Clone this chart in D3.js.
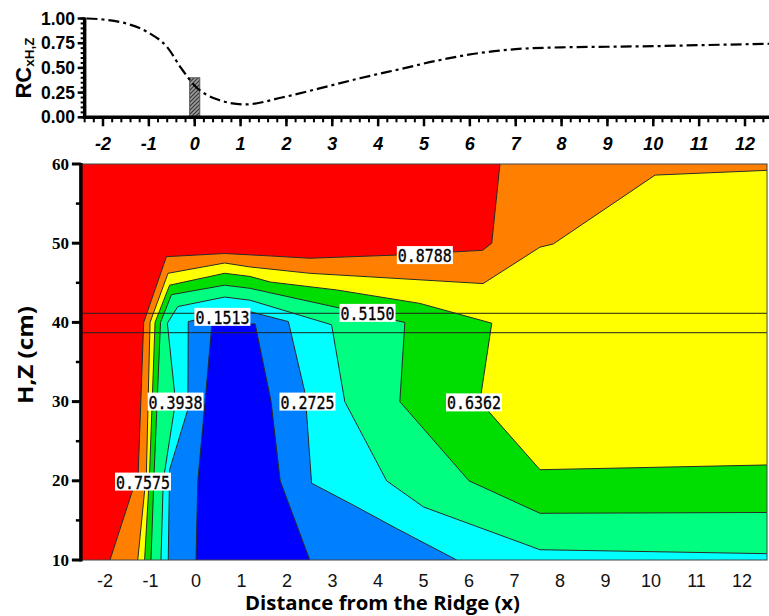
<!DOCTYPE html>
<html><head><meta charset="utf-8">
<script src="https://cdn.jsdelivr.net/npm/d3@7"></script>
<style>body{margin:0;background:#fff}svg{display:block}</style>
</head><body>
<svg id="c" width="769" height="616"></svg>
<script>
// ---------------- DATA ----------------
// top panel: RC(x,H,Z) profile
const rcX     = [-2.36,-2.0,-1.5,-1.0,-0.6,-0.3,0.0,0.5,1.1,1.9,2.7,3.6,4.5,5.3,6.2,7.0,8.0,9.0,10.0,11.0,12.6];
const rcValue = [1.0,0.99,0.95,0.855,0.71,0.50,0.32,0.18,0.13,0.20,0.29,0.395,0.49,0.575,0.65,0.69,0.708,0.714,0.72,0.73,0.745];
const barX = [0];
const barValue = [0.40];
const rcTicks = [0, 0.25, 0.5, 0.75, 1.0];
const distTicks = [-2,-1,0,1,2,3,4,5,6,7,8,9,10,11,12];
const hTicks = [10,20,30,40,50,60];
const distExtent = [-2.53, 12.55];
const hExtent = [10, 60];

// bottom panel: contour levels and their iso-lines (x, H)
const levels = [0.1513, 0.2725, 0.3938, 0.5150, 0.6362, 0.7575, 0.8788];
const bandColors = ["#0000ff","#0080ff","#00ffff","#00ff80","#00dd00","#ffff00","#ff8000","#ff0000"];
const iso1513 = [[0.0,10],[0.04,20],[0.2,30],[0.35,39.8],[1.3,39.8],[1.65,30],[1.85,20],[2.5,10]];
const iso2725 = [[-0.61,10],[-0.58,21.4],[-0.18,29],[-0.17,40.1],[0.5,41.0],[1.19,41.35],[2.03,40.1],[2.4,31],[2.54,19.7],[3.5,16.8],[4.4,14],[5.73,10]];
const iso3938 = [[-0.77,10],[-0.72,20],[-0.45,30],[-0.63,39.9],[-0.4,42],[0.63,43.2],[1.19,42.8],[2.98,39.7],[3.27,30],[4.19,20],[5.0,16.7],[7.56,11.3],[12.55,10.8]];
const iso5150 = [[-0.99,10],[-0.92,21],[-0.78,40],[-0.54,43.5],[0.63,44.7],[1.19,44.3],[4.59,40],[4.48,30],[6.0,20],[7.56,15.9],[12.55,16]];
const iso6362 = [[-1.13,10],[-1.02,21],[-0.9,40],[-0.58,44.7],[0.63,46.2],[1.19,45.8],[1.63,45.1],[3.09,44.1],[4.92,42.4],[6.5,39.9],[6.24,30],[7.56,21.4],[12.55,22]];
const iso7575 = [[-1.28,10],[-1.09,21],[-1.01,40],[-0.615,46.2],[0.63,47.5],[1.19,47.0],[2.5,46.2],[6.31,44.9],[7.56,49.5],[7.85,49.9],[10.09,58.6],[12.55,59.2]];
const iso8788 = [[-1.89,10],[-1.27,21],[-1.15,40],[-0.65,48.3],[0.63,48.7],[1.6,48.4],[2.5,48.1],[4.4,48.5],[6.3,49.1],[6.5,50],[6.68,60]];
const isoLines = [iso1513, iso2725, iso3938, iso5150, iso6362, iso7575, iso8788];

const labelText = ["0.8788","0.5150","0.1513","0.3938","0.2725","0.6362","0.7575"];
const labelX    = [5.03, 3.77, 0.58, -0.45, 2.45, 6.11, -1.165];
const labelH    = [48.5, 41.2, 40.7, 30.0, 30.0, 29.9, 19.9];
const refLinesH = [41.15, 38.7];

// ---------------- DRAW ----------------
const svg = d3.select("#c");
const sans = "'Liberation Sans', Arial, sans-serif";

// ===== top panel =====
const topX = d3.scaleLinear().domain([-2, 12]).range([103, 745]);
const topY = d3.scaleLinear().domain([0, 1]).range([117.3, 18.5]);
const topLeft = topX(-2.4);

const defs = svg.append("defs");
const pat = defs.append("pattern").attr("id","hatch").attr("patternUnits","userSpaceOnUse")
  .attr("width",4).attr("height",4);
pat.append("rect").attr("width",4).attr("height",4).attr("fill","#9a9a9a");
pat.append("path").attr("d","M-1,5 L5,-1 M-1,1 L1,-1 M3,5 L5,3").attr("stroke","#333").attr("stroke-width",1.1);

const barW = 0.22;
svg.selectAll("rect.bar").data(barX).enter().append("rect").attr("class","bar")
  .attr("x", d => topX(d - barW/2)).attr("width", d => topX(d + barW/2) - topX(d - barW/2))
  .attr("y", (d,i) => topY(barValue[i])).attr("height", (d,i) => topY(0) - topY(barValue[i]))
  .attr("fill","url(#hatch)").attr("stroke","#555").attr("stroke-width",1);

const rcPts = rcX.map((x,i) => [x, rcValue[i]]);
svg.append("path").attr("d", d3.line().x(d => topX(d[0])).y(d => topY(d[1])).curve(d3.curveMonotoneX)(rcPts))
  .attr("fill","none").attr("stroke","#000").attr("stroke-width",2.2)
  .attr("stroke-dasharray","11,4,3,4");

// top y axis ticks
const tMinorY = d3.range(0, 1.0001, 0.05);
svg.selectAll("line.tyMin").data(tMinorY).enter().append("line")
  .attr("x1", topLeft - 4).attr("x2", topLeft).attr("y1", d => topY(d)).attr("y2", d => topY(d))
  .attr("stroke","#000").attr("stroke-width",2);
svg.selectAll("line.tyMaj").data(rcTicks).enter().append("line")
  .attr("x1", topLeft - 7).attr("x2", topLeft).attr("y1", d => topY(d)).attr("y2", d => topY(d))
  .attr("stroke","#000").attr("stroke-width",2.5);
svg.selectAll("text.tyl").data(rcTicks).enter().append("text")
  .attr("x", 75).attr("y", d => topY(d) + 6).attr("text-anchor","end")
  .attr("font-family", sans).attr("font-weight","bold").attr("font-size",17.5)
  .text(d => d.toFixed(2));
// top x axis ticks
const tMinorX = d3.range(-2.4, 12.61, 0.2);
svg.selectAll("line.txMin").data(tMinorX).enter().append("line")
  .attr("x1", d => topX(d)).attr("x2", d => topX(d)).attr("y1", topY(0)).attr("y2", topY(0) + 5)
  .attr("stroke","#000").attr("stroke-width",2);
svg.selectAll("line.txMaj").data(distTicks).enter().append("line")
  .attr("x1", d => topX(d)).attr("x2", d => topX(d)).attr("y1", topY(0)).attr("y2", topY(0) + 9)
  .attr("stroke","#000").attr("stroke-width",2.5);
svg.selectAll("text.txl").data(distTicks).enter().append("text")
  .attr("x", d => topX(d)).attr("y", 150).attr("text-anchor","middle")
  .attr("font-family", sans).attr("font-weight","bold").attr("font-style","italic").attr("font-size",18)
  .text(d => d);
// top axis lines
svg.append("line").attr("x1", topLeft).attr("x2", topLeft).attr("y1", topY(1) - 1).attr("y2", topY(0) + 1.5)
  .attr("stroke","#000").attr("stroke-width",3.5);
svg.append("line").attr("x1", topLeft - 1.5).attr("x2", 769).attr("y1", topY(0)).attr("y2", topY(0))
  .attr("stroke","#000").attr("stroke-width",3.5);
// top y title
const rcT = svg.append("text").attr("transform","translate(31,68) rotate(-90)").attr("text-anchor","middle")
  .attr("font-family", sans).attr("font-weight","bold").attr("font-size",22);
rcT.append("tspan").text("RC");
rcT.append("tspan").attr("font-size",13.5).attr("dy",3).text("xH,Z");

// ===== bottom panel =====
const botX = d3.scaleLinear().domain([-2, 12]).range([105, 742]);
const botY = d3.scaleLinear().domain([10, 60]).range([560, 164]);
const pL = botX(distExtent[0]), pR = botX(distExtent[1]);
const pT = botY(hExtent[1]), pB = botY(hExtent[0]);

defs.append("clipPath").attr("id","plotClip").append("rect")
  .attr("x", pL).attr("y", pT).attr("width", pR - pL).attr("height", pB - pT);
const plot = svg.append("g").attr("clip-path","url(#plotClip)");

// base band (above the highest level)
plot.append("rect").attr("x", pL).attr("y", pT).attr("width", pR - pL).attr("height", pB - pT)
  .attr("fill", bandColors[bandColors.length - 1]);

// close an iso-line into the region with values below its level (bottom/right side of the plot)
function regionPoints(line) {
  const pts = line.slice();
  const last = pts[pts.length - 1];
  if (last[1] >= hExtent[1] - 1e-9) { pts.push([distExtent[1], hExtent[1]]); pts.push([distExtent[1], hExtent[0]]); }
  else if (last[0] >= distExtent[1] - 1e-9) { pts.push([distExtent[1], hExtent[0]]); }
  return pts;
}
const lineGen = d3.line().x(d => botX(d[0])).y(d => botY(d[1]));
for (let k = levels.length - 1; k >= 0; k--) {
  plot.append("path").attr("d", lineGen(regionPoints(isoLines[k])) + "Z")
    .attr("fill", bandColors[k]).attr("stroke","none");
}
plot.selectAll("path.iso").data(isoLines).enter().append("path").attr("class","iso")
  .attr("d", d => lineGen(d)).attr("fill","none").attr("stroke","#2a2a2a").attr("stroke-width",1);
plot.selectAll("line.ref").data(refLinesH).enter().append("line")
  .attr("x1", pL).attr("x2", pR).attr("y1", d => botY(d)).attr("y2", d => botY(d))
  .attr("stroke","#222").attr("stroke-width",1);

// contour labels
const lab = plot.selectAll("g.lab").data(labelText).enter().append("g")
  .attr("transform", (d,i) => `translate(${botX(labelX[i])},${botY(labelH[i])})`);
lab.append("rect").attr("x",-28).attr("y",-9).attr("width",56).attr("height",18).attr("fill","#fff");
lab.append("text").attr("x",-27).attr("y",7).attr("textLength",54).attr("lengthAdjust","spacingAndGlyphs")
  .attr("font-family","'DejaVu Sans Mono', monospace").attr("font-size",18.5)
  .attr("fill","#000").attr("stroke","#000").attr("stroke-width",0.35)
  .text(d => d);

// frame
svg.append("rect").attr("x", pL).attr("y", pT).attr("width", pR - pL).attr("height", pB - pT)
  .attr("fill","none").attr("stroke","#444").attr("stroke-width",1);
svg.append("line").attr("x1", pL).attr("x2", pL).attr("y1", pT - 1).attr("y2", pB + 1.5)
  .attr("stroke","#000").attr("stroke-width",3.5);
const hMinor = d3.range(15, 60, 10);
svg.selectAll("line.hMin").data(hMinor).enter().append("line")
  .attr("x1", pL - 5).attr("x2", pL).attr("y1", d => botY(d)).attr("y2", d => botY(d))
  .attr("stroke","#000").attr("stroke-width",2.5);
svg.selectAll("line.hMaj").data(hTicks).enter().append("line")
  .attr("x1", pL - 9).attr("x2", pL).attr("y1", d => botY(d)).attr("y2", d => botY(d))
  .attr("stroke","#000").attr("stroke-width",3);
svg.selectAll("text.hl").data(hTicks).enter().append("text")
  .attr("x", 69).attr("y", d => botY(d) + 5.5).attr("text-anchor","end")
  .attr("font-family","'Liberation Serif', 'Times New Roman', serif").attr("font-weight","bold").attr("font-size",17)
  .text(d => d);
svg.selectAll("text.xl").data(distTicks).enter().append("text")
  .attr("x", d => botX(d)).attr("y", 587).attr("text-anchor","middle")
  .attr("font-family", sans).attr("font-size",18).attr("fill","#111")
  .text(d => d);
// titles
svg.append("text").attr("x", 382.5).attr("y", 610).attr("text-anchor","middle")
  .attr("font-family","'Open Sans', sans-serif").attr("font-weight","bold").attr("font-size",19)
  .attr("textLength",275).attr("lengthAdjust","spacingAndGlyphs")
  .text("Distance from the Ridge (x)");
svg.append("text").attr("transform","translate(33,355) rotate(-90)").attr("text-anchor","middle")
  .attr("font-family","'Open Sans', sans-serif").attr("font-weight","bold").attr("font-size",21)
  .attr("textLength",98).attr("lengthAdjust","spacingAndGlyphs")
  .text("H,Z (cm)");
</script>
</body></html>
